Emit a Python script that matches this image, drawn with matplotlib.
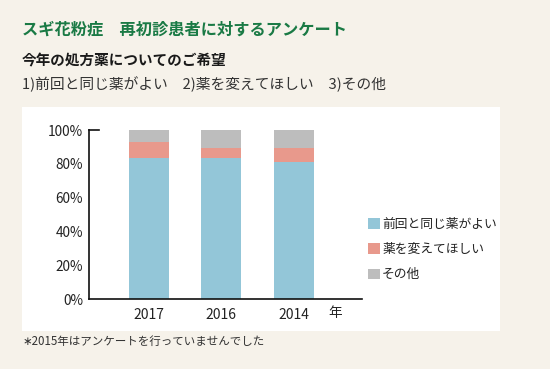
import matplotlib
matplotlib.use("Agg")
import matplotlib.pyplot as plt
from matplotlib.patches import Rectangle

plt.rcParams['font.family'] = ['Noto Sans CJK JP', 'DejaVu Sans']

years = ["2017", "2016", "2014"]
series_names = ["前回と同じ薬がよい", "薬を変えてほしい", "その他"]
same = [83.6, 83.6, 81.3]
change = [9.3, 5.9, 8.2]
other = [7.1, 10.5, 10.5]
yticks = [0, 20, 40, 60, 80, 100]
colors = ["#93c6d8", "#e8998c", "#bdbdbd"]

W, H = 550, 369
fig = plt.figure(figsize=(W / 100, H / 100), dpi=100)
fig.patch.set_facecolor("#f6f2ea")

def fx(x): return x / W
def fy(y): return 1 - y / H

# white panel
fig.patches.append(Rectangle((fx(22), fy(331)), (500 - 22) / W, (331 - 107) / H,
                             transform=fig.transFigure, facecolor="white", edgecolor="none", zorder=-10))

fig.text(fx(22), fy(30), "スギ花粉症　再初診患者に対するアンケート", color="#1a7a45",
         fontsize=11.7, fontweight="bold", va="center", ha="left")
fig.text(fx(22), fy(60), "今年の処方薬についてのご希望", color="#1a1a1a",
         fontsize=10.5, fontweight="bold", va="center", ha="left")
fig.text(fx(22), fy(84), "1)前回と同じ薬がよい　2)薬を変えてほしい　3)その他", color="#333333",
         fontsize=10.6, va="center", ha="left")
fig.text(fx(22), fy(341), "∗2015年はアンケートを行っていませんでした", color="#333333",
         fontsize=8.3, va="center", ha="left")

ax_left, ax_right, ax_top, ax_bot = 88.7, 362, 130, 299.3
ax = fig.add_axes([fx(ax_left), fy(ax_bot), (ax_right - ax_left) / W, (ax_bot - ax_top) / H])
ax.set_facecolor("none")
ax.set_zorder(5)

x = list(range(len(years)))
width = 40 / 72.5
bottom2 = [a + b for a, b in zip(same, change)]
ax.bar(x, same, width=width, color=colors[0], label=series_names[0])
ax.bar(x, change, width=width, bottom=same, color=colors[1], label=series_names[1])
ax.bar(x, other, width=width, bottom=bottom2, color=colors[2], label=series_names[2])

ax.set_xlim(-0.83, 2.94)
ax.set_ylim(0, 100)
ax.set_yticks(yticks)
ax.set_yticklabels([f"{v}%" for v in yticks], fontsize=9.8, color="#222222")
ax.set_xticks(x)
ax.set_xticklabels(years, fontsize=10, color="#222222")
ax.tick_params(axis="both", length=0, pad=4)
ax.tick_params(axis="x", pad=6)
for s in ["top", "right"]:
    ax.spines[s].set_visible(False)
for s in ["left", "bottom"]:
    ax.spines[s].set_color("#111111")
    ax.spines[s].set_linewidth(1.2)
ax.plot([-0.83, -0.83 + 10 / 72.5], [100, 100], color="#111111", lw=1.2, clip_on=False)

fig.text(fx(335), fy(313), "年", fontsize=9.8, color="#222222", ha="center", va="center")

leg = fig.legend(loc="upper left", bbox_to_anchor=(fx(368), fy(218)), frameon=False,
                 fontsize=9.2, handlelength=0.9, handleheight=0.9, handletextpad=0.2,
                 labelspacing=0.95, borderaxespad=0, borderpad=0)
for t in leg.get_texts():
    t.set_color("#222222")

fig.savefig("out.png", dpi=100, facecolor=fig.get_facecolor())
